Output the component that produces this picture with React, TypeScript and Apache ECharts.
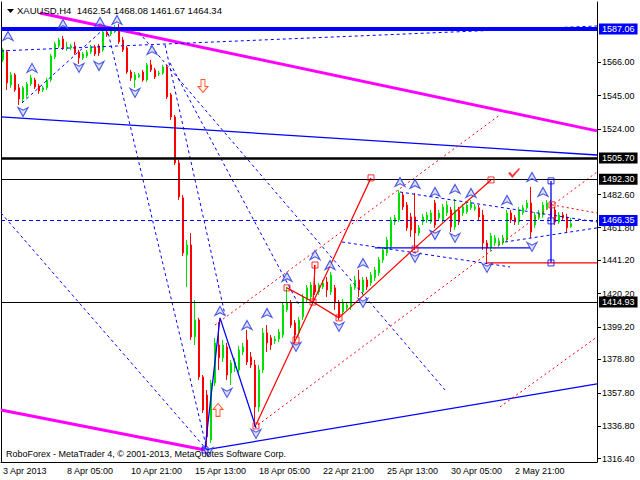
import React, { useEffect, useRef } from 'react';
import * as echarts from 'echarts';

const FONT = 'Liberation Sans';
const SLOTS = 149;

const timeLabels = ['3 Apr 2013', '8 Apr 05:00', '10 Apr 21:00', '15 Apr 13:00', '18 Apr 05:00', '22 Apr 21:00', '25 Apr 13:00', '30 Apr 05:00', '2 May 21:00'];
const priceTicks = [1566.0, 1545.0, 1524.0, 1482.6, 1461.8, 1441.2, 1420.2, 1399.2, 1378.8, 1357.8, 1336.8, 1316.4];

// [open, high, low, close]
const ohlc: number[][] = [
  [1567.5, 1575.1, 1566.2, 1573.8], [1572.5, 1573.8, 1548.6, 1553.0], [1551.8, 1559.9, 1549.9, 1558.1], [1558.1, 1559.3, 1547.4, 1548.6], [1549.9, 1552.4, 1539.2, 1542.9],
  [1542.9, 1551.1, 1540.4, 1549.9], [1545.5, 1553.7, 1543.6, 1552.4], [1552.4, 1558.1, 1551.1, 1556.2], [1554.9, 1556.2, 1549.2, 1550.5], [1551.1, 1552.4, 1546.1, 1548.0],
  [1548.6, 1551.1, 1547.3, 1549.9], [1549.9, 1556.2, 1548.6, 1554.9], [1554.9, 1571.3, 1553.7, 1570.0], [1569.4, 1578.9, 1568.1, 1577.6], [1576.3, 1581.4, 1575.1, 1580.1],
  [1580.7, 1582.6, 1573.8, 1575.1], [1575.1, 1578.9, 1573.2, 1575.7], [1575.1, 1577.6, 1573.8, 1576.3], [1576.3, 1578.9, 1570.7, 1571.9], [1572.5, 1573.8, 1565.0, 1568.8],
  [1568.8, 1572.5, 1567.5, 1571.3], [1570.0, 1573.8, 1568.8, 1572.5], [1572.5, 1577.0, 1571.3, 1575.7], [1575.7, 1577.0, 1570.0, 1571.3], [1576.3, 1577.6, 1570.0, 1571.9],
  [1573.8, 1587.7, 1572.5, 1585.1], [1585.1, 1587.7, 1582.0, 1583.3], [1583.9, 1587.0, 1582.6, 1585.8], [1585.1, 1589.6, 1584.5, 1587.7], [1586.4, 1590.2, 1577.6, 1578.9],
  [1580.1, 1582.0, 1572.5, 1573.8], [1575.1, 1576.3, 1558.7, 1559.9], [1559.9, 1561.2, 1554.3, 1556.2], [1554.9, 1559.9, 1549.9, 1558.1], [1556.8, 1559.3, 1556.2, 1558.1],
  [1559.9, 1561.2, 1553.7, 1554.9], [1554.9, 1565.6, 1553.7, 1564.4], [1564.4, 1567.5, 1559.9, 1561.2], [1561.2, 1562.5, 1555.5, 1556.8], [1558.7, 1560.6, 1557.4, 1559.3],
  [1559.3, 1564.4, 1558.1, 1563.1], [1563.1, 1564.4, 1542.9, 1544.2], [1545.5, 1546.7, 1529.7, 1531.6], [1531.6, 1532.8, 1501.3, 1502.6], [1502.6, 1504.5, 1479.3, 1481.2],
  [1480.6, 1482.4, 1444.0, 1445.9], [1444.6, 1454.1, 1424.5, 1450.9], [1450.9, 1458.5, 1391.1, 1393.0], [1393.0, 1416.3, 1387.9, 1403.7], [1403.7, 1405.0, 1365.9, 1367.8],
  [1367.8, 1369.0, 1345.1, 1347.0], [1356.4, 1359.6, 1323.7, 1330.0], [1328.1, 1365.9, 1326.2, 1364.0], [1364.0, 1392.4, 1362.1, 1389.2], [1387.9, 1402.4, 1372.2, 1379.8],
  [1379.8, 1391.1, 1377.2, 1387.9], [1386.7, 1389.2, 1365.9, 1369.0], [1370.3, 1378.5, 1362.7, 1376.6], [1373.5, 1379.8, 1370.9, 1377.2], [1372.2, 1387.3, 1370.3, 1384.8],
  [1383.5, 1389.2, 1381.6, 1386.7], [1391.1, 1397.4, 1375.3, 1377.2], [1380.4, 1383.5, 1373.5, 1375.3], [1375.3, 1378.5, 1336.3, 1348.9], [1348.9, 1375.3, 1345.7, 1372.2],
  [1372.2, 1398.6, 1370.3, 1395.5], [1395.5, 1400.5, 1383.5, 1389.2], [1392.4, 1394.2, 1384.8, 1387.9], [1390.5, 1393.6, 1388.6, 1391.7], [1391.7, 1398.0, 1389.8, 1396.1],
  [1394.2, 1415.0, 1392.4, 1413.1], [1410.0, 1424.5, 1408.7, 1414.4], [1414.4, 1416.3, 1398.7, 1400.5], [1401.8, 1403.7, 1389.8, 1394.2], [1395.5, 1405.6, 1393.6, 1403.7],
  [1405.6, 1420.1, 1403.7, 1418.2], [1416.3, 1425.7, 1414.4, 1423.9], [1418.2, 1427.6, 1416.3, 1425.7], [1425.7, 1438.3, 1419.4, 1421.3], [1421.3, 1427.0, 1419.4, 1425.7],
  [1424.5, 1428.9, 1423.2, 1427.0], [1427.6, 1430.8, 1418.2, 1422.6], [1421.3, 1433.9, 1419.4, 1432.0], [1423.9, 1425.7, 1410.0, 1414.4], [1414.4, 1416.3, 1403.7, 1405.6],
  [1408.7, 1416.9, 1406.8, 1415.0], [1411.3, 1415.0, 1410.0, 1413.1], [1411.9, 1426.4, 1410.0, 1424.5], [1423.9, 1431.4, 1422.6, 1428.9], [1428.9, 1435.2, 1418.2, 1422.6],
  [1421.3, 1430.8, 1419.4, 1428.9], [1428.9, 1430.8, 1422.6, 1424.5], [1427.0, 1433.9, 1425.1, 1432.0], [1430.2, 1437.1, 1428.3, 1435.2], [1433.3, 1443.4, 1431.4, 1441.5],
  [1441.5, 1449.7, 1439.6, 1447.8], [1445.9, 1456.0, 1444.0, 1454.1], [1449.7, 1468.6, 1447.8, 1466.7], [1465.4, 1469.8, 1463.5, 1468.0], [1466.7, 1485.6, 1465.4, 1483.7],
  [1482.4, 1484.3, 1473.0, 1474.9], [1476.1, 1478.0, 1459.8, 1461.7], [1468.6, 1471.1, 1456.0, 1460.4], [1468.6, 1483.7, 1447.8, 1458.5], [1458.5, 1463.5, 1456.6, 1461.7],
  [1465.4, 1470.5, 1463.5, 1468.6], [1466.7, 1471.7, 1464.8, 1469.8], [1465.4, 1473.0, 1464.2, 1471.1], [1477.4, 1479.3, 1461.7, 1463.5], [1468.0, 1473.0, 1466.1, 1471.1],
  [1466.7, 1476.8, 1464.8, 1474.9], [1471.1, 1478.7, 1469.2, 1476.1], [1473.0, 1474.9, 1459.1, 1462.3], [1462.3, 1479.9, 1460.4, 1473.0], [1473.0, 1474.9, 1463.5, 1465.4],
  [1471.1, 1476.8, 1469.2, 1474.9], [1471.7, 1478.0, 1470.5, 1476.1], [1474.3, 1479.3, 1473.0, 1477.4], [1473.6, 1476.8, 1472.4, 1474.9], [1474.3, 1476.1, 1466.7, 1468.6],
  [1469.8, 1473.0, 1447.8, 1452.2], [1452.2, 1454.1, 1439.6, 1449.1], [1449.1, 1458.5, 1447.2, 1456.6], [1452.2, 1457.3, 1450.3, 1455.4], [1450.9, 1455.4, 1449.7, 1453.5],
  [1452.2, 1457.3, 1450.9, 1455.4], [1454.1, 1473.0, 1452.8, 1471.1], [1471.1, 1473.0, 1464.8, 1466.7], [1468.0, 1469.8, 1463.5, 1465.4], [1465.4, 1474.9, 1463.5, 1473.0],
  [1471.1, 1476.1, 1469.8, 1474.3], [1474.3, 1479.3, 1473.0, 1477.4], [1477.4, 1487.5, 1455.4, 1459.1], [1463.5, 1471.7, 1461.7, 1469.8], [1468.0, 1473.0, 1466.7, 1471.1],
  [1469.8, 1478.0, 1468.0, 1476.1], [1474.3, 1479.3, 1473.0, 1477.4], [1477.4, 1479.3, 1466.7, 1468.6], [1473.0, 1474.9, 1463.5, 1465.4], [1465.4, 1471.7, 1464.2, 1469.8],
  [1469.8, 1471.7, 1466.7, 1468.0], [1468.6, 1470.5, 1459.1, 1461.7], [1462.54, 1468.08, 1461.67, 1464.34],
];

// horizontal price levels
const levelPrices = [1587.06, 1505.7, 1492.3, 1466.35, 1414.93];

// drawn objects: [bar index, price]
const magentaLines = [
  [[9.25, 1597.1], [148.5, 1522.8]],
  [[-0.5, 1347.0], [50.5, 1321.8]],
];
const blueSolidLines = [
  [[-0.5, 1531.6], [148.5, 1507.6]],
  [[50.5, 1321.8], [148.5, 1363.4]],
  [[50.5, 1322.4], [54.25, 1405.0], [63.25, 1335.7]],
  [[137, 1491.3], [137, 1439.6]],
  [[93, 1449.1], [131.75, 1449.1]],
];
const blueDashedLines = [
  [[-0.5, 1573.2], [148.5, 1588.9]],
  [[4.75, 1540.4], [25.5, 1587.7]],
  [[26, 1587.7], [51, 1321.8]],
  [[-0.5, 1471.1], [51, 1321.8]],
  [[33, 1587.7], [110.5, 1359.6]],
  [[40.5, 1577.0], [55.5, 1406.9]],
  [[41.75, 1565.6], [74.25, 1411.9]],
  [[99.25, 1484.3], [148.5, 1465.4]],
  [[84.75, 1452.8], [126.75, 1437.1]],
  [[125.5, 1452.8], [148.5, 1461.7]],
];
const redSolidLines = [
  [[63.25, 1337.6], [92, 1493.2]],
  [[71, 1423.9], [77.5, 1415.0], [84, 1405.0]],
  [[84, 1405.0], [103, 1449.1], [122, 1491.9]],
  [[121, 1439.6], [148.5, 1439.6]],
  [[78, 1438.3], [77.5, 1415.0]],
];
const redDashedLines = [
  [[53, 1400.5], [124.25, 1532.9]],
  [[63.75, 1337.6], [148.5, 1496.9]],
  [[124.25, 1348.9], [148.5, 1393.0]],
  [[137.25, 1476.2], [148.5, 1471.1]],
];

const upFractals = [
  [1.25, 1582.6], [7.25, 1562.5], [15, 1590.2], [24.25, 1591.4], [28.5, 1592.7], [37.25, 1573.8],
  [54.25, 1409.4], [61, 1400.5], [66, 1408.1], [71, 1430.8], [78, 1444.6], [81.75, 1438.3], [90, 1439.6],
  [99.25, 1490.6], [103, 1489.4], [108, 1484.3], [113, 1486.2], [117, 1483.7], [126, 1479.3], [132.25, 1493.8], [135, 1484.3],
];
const downFractals = [
  [5, 1534.7], [19, 1562.5], [24, 1563.7], [33, 1546.7], [51.25, 1320.5], [56, 1357.7], [63.25, 1331.9],
  [73.25, 1386.7], [84, 1399.3], [90, 1414.4], [103, 1442.8], [108, 1457.2], [113, 1455.4], [121, 1436.5], [132.25, 1449.7],
];
const redSquares = [
  [63.25, 1336.9], [71, 1423.9], [73.25, 1391.1], [77.5, 1415.0], [78, 1438.3], [84, 1405.0],
  [92, 1493.2], [103, 1448.4], [122, 1491.9], [137.25, 1476.2],
];
const blueSquares = [[50.5, 1321.8], [137, 1491.3], [137, 1466.1], [137, 1439.6]];
const sellArrow = [[50, 1551.1]];
const buyArrow = [[53.75, 1347.0]];
const checkMark = [[127.75, 1496.3]];

const GREEN = '#00e000';
const RED = '#ff0000';
const BLUE = '#0000ff';

const levelStyles = [
  { line: { color: BLUE, width: 4, type: 'solid' }, box: BLUE },
  { line: { color: '#000', width: 2.5, type: 'solid' }, box: '#000' },
  { line: { color: '#000', width: 1, type: 'solid' }, box: '#000' },
  { line: { color: BLUE, width: 1, type: [4, 3] }, box: BLUE },
  { line: { color: '#000', width: 1, type: 'solid' }, box: '#000' },
];

function lineSeries(pts: number[][], color: string, width: number, type: any, z: number) {
  return {
    type: 'line', xAxisIndex: 1, yAxisIndex: 0, data: pts, symbol: 'none', silent: true, z,
    lineStyle: { color, width, type }, clip: true,
  };
}

export default function App() {
  const ref = useRef<HTMLDivElement>(null);
  useEffect(() => {
    if (!ref.current) return;
    const chart = echarts.init(ref.current, undefined, { renderer: 'svg' });
    const categories = Array.from({ length: SLOTS }, (_, i) => String(i));
    const series: any[] = [
      {
        type: 'candlestick', xAxisIndex: 0, yAxisIndex: 0, barWidth: 2, z: 2,
        data: ohlc.map(([o, h, l, c]) => [o, c, l, h]),
        itemStyle: { color: GREEN, color0: RED, borderColor: GREEN, borderColor0: RED, borderWidth: 1 },
      },
    ];
    magentaLines.forEach(p => series.push(lineSeries(p, '#ff00ff', 3, 'solid', 3)));
    blueSolidLines.forEach(p => series.push(lineSeries(p, BLUE, 1.3, 'solid', 3)));
    blueDashedLines.forEach(p => series.push(lineSeries(p, BLUE, 1, [3, 3], 3)));
    redSolidLines.forEach(p => series.push(lineSeries(p, RED, 1.2, 'solid', 3)));
    redDashedLines.forEach(p => series.push(lineSeries(p, RED, 1, [2, 3], 3)));
    series.push({
      type: 'line', xAxisIndex: 1, yAxisIndex: 0, data: [], z: 6,
      markLine: {
        symbol: ['none', 'none'], silent: true, animation: false,
        data: levelPrices.map((p, i) => ({
          yAxis: p,
          lineStyle: levelStyles[i].line,
          label: {
            show: true, position: 'end', distance: 2,
            formatter: (d: any) => Number(d.value).toFixed(2),
            color: '#fff', backgroundColor: levelStyles[i].box,
            padding: [1, 3, 0, 3], fontSize: 9, lineHeight: 10, fontFamily: FONT,
          },
        })),
      },
    });
    const scatter = (data: number[][], symbol: string, size: any, itemStyle: any, z = 5) => ({
      type: 'scatter', xAxisIndex: 1, yAxisIndex: 0, data, symbol, symbolSize: size, itemStyle, silent: true, z,
    });
    const fractalStyle = { color: '#d4d8ff', borderColor: '#2233d8', borderWidth: 1.1 };
    series.push(scatter(upFractals, 'path://M6,0 L12,10 L6,7 L0,10 Z', [10, 9], fractalStyle));
    series.push(scatter(downFractals, 'path://M0,0 L6,3 L12,0 L6,10 Z', [10, 9], fractalStyle));
    series.push(scatter(redSquares, 'rect', 6, { color: 'rgba(0,0,0,0)', borderColor: RED, borderWidth: 1 }));
    series.push(scatter(blueSquares, 'rect', 6, { color: 'rgba(0,0,0,0)', borderColor: BLUE, borderWidth: 1 }));
    series.push(scatter(sellArrow, 'path://M3,0 L7,0 L7,7 L10,7 L5,13 L0,7 L3,7 Z', [10, 13], { color: '#fff0e8', borderColor: '#ff3000', borderWidth: 1 }));
    series.push(scatter(buyArrow, 'path://M5,0 L10,6 L7,6 L7,13 L3,13 L3,6 L0,6 Z', [10, 13], { color: '#fff0e8', borderColor: '#ff3000', borderWidth: 1 }));
    series.push(scatter(checkMark, 'path://M0,5 L2,4 L4,7 L10,0 L11,1 L4,10 Z', [12, 10], { color: RED }));

    const option: any = {
      animation: false,
      backgroundColor: '#fff',
      textStyle: { fontFamily: FONT },
      title: [
        {
          text: 'XAUUSD,H4  1462.54 1468.08 1461.67 1464.34', left: 17, top: 5, padding: 0,
          textStyle: { fontSize: 9.5, fontWeight: 'normal', color: '#000', fontFamily: FONT },
        },
        {
          text: 'RoboForex - MetaTrader 4, © 2001-2013, MetaQuotes Software Corp.', left: 6, top: 449, padding: 0,
          textStyle: { fontSize: 9, fontWeight: 'normal', color: '#000', fontFamily: FONT },
        },
      ],
      graphic: [
        { type: 'polygon', shape: { points: [[7, 9], [14, 9], [10.5, 13]] }, style: { fill: '#000' }, z: 10 },
      ],
      grid: { left: 1, right: 43, top: 2, bottom: 18, containLabel: false },
      xAxis: [
        {
          type: 'category', data: categories, boundaryGap: true,
          axisLine: { onZero: false, lineStyle: { color: '#000' } },
          axisTick: { alignWithLabel: true, interval: 15, length: 4, lineStyle: { color: '#000' } },
          axisLabel: {
            interval: 15, align: 'left', margin: 4, fontSize: 9, color: '#000', fontFamily: FONT,
            formatter: (_v: string, i: number) => timeLabels[i / 16] ?? '',
          },
          splitLine: { show: false },
        },
        { type: 'value', min: -0.5, max: SLOTS - 0.5, show: false },
      ],
      yAxis: [
        {
          type: 'value', position: 'right', min: 1314.2, max: 1604.0,
          axisLine: { show: true, onZero: false, lineStyle: { color: '#000' } },
          axisTick: { show: true, length: 4, customValues: priceTicks, lineStyle: { color: '#000' } },
          axisLabel: {
            customValues: priceTicks, margin: 5, fontSize: 9, color: '#000', fontFamily: FONT,
            formatter: (v: number) => v.toFixed(2),
          },
          splitLine: { show: false },
        },
        {
          type: 'value', position: 'left', min: 0, max: 1,
          axisLine: { show: true, onZero: false, lineStyle: { color: '#000' } },
          axisTick: { show: false }, axisLabel: { show: false }, splitLine: { show: false },
        },
      ],
      series,
    };
    chart.setOption(option);
    return () => chart.dispose();
  }, []);
  return <div ref={ref} style={{ width: 640, height: 480, position: 'absolute', left: 0, top: 0 }} />;
}
